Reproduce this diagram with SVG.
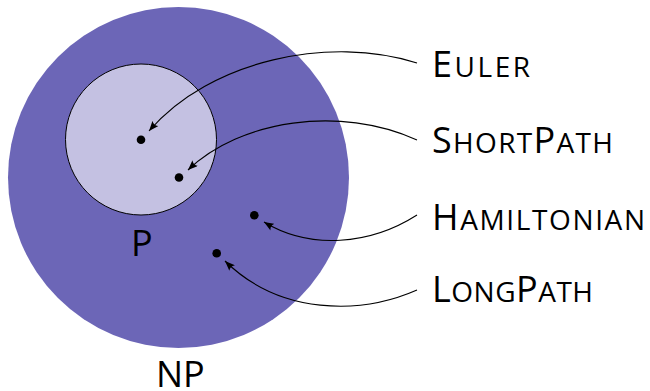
<svg xmlns="http://www.w3.org/2000/svg" width="650" height="391" viewBox="0 0 650 391">
  <style>
    .lbl { font-family: "Open Sans", "Liberation Sans", sans-serif; font-size: 36px; fill: #000; }
    .sm { font-size: 40px; font-variant: small-caps; }
    .dot { fill: #000; }
    .conn { fill: none; stroke: #000; stroke-width: 1.1; marker-end: url(#arr); }
  </style>
  <defs>
    <marker id="arr" markerUnits="userSpaceOnUse" markerWidth="11" markerHeight="8" refX="10" refY="4" orient="auto">
      <path d="M0,0 Q3,4 0,8 L10,4 Z" fill="#000"/>
    </marker>
  </defs>
  <g id="NP">
    <circle cx="178.5" cy="177.5" r="170.5" fill="#6C66B7"/>
    <text class="lbl" x="156" y="387">NP</text>
  </g>
  <g id="P">
    <circle cx="141" cy="139.5" r="75.5" fill="#C4C1E2" stroke="#000" stroke-width="1"/>
    <text class="lbl" x="131" y="256">P</text>
  </g>
  <g id="dots">
    <circle class="dot" cx="141" cy="139.7" r="4.3"/>
    <circle class="dot" cx="179" cy="177.5" r="4.3"/>
    <circle class="dot" cx="254.3" cy="215.3" r="4.3"/>
    <circle class="dot" cx="216.7" cy="253.3" r="4.3"/>
  </g>
  <g id="connectors">
    <path class="conn" d="M417,63 C330,35 210,60 149,131"/>
    <path class="conn" d="M417,140 C340,105 240,120 188,170"/>
    <path class="conn" d="M417,215 C370,245 310,250 264,222"/>
    <path class="conn" d="M417,290 C360,315 280,315 225,261"/>
  </g>
  <g id="euler"><text class="lbl" x="432" y="77" textLength="98" lengthAdjust="spacing">E<tspan class="sm">uler</tspan></text></g>
  <g id="shortpath"><text class="lbl" x="432" y="153" textLength="181" lengthAdjust="spacing">S<tspan class="sm">hort</tspan>P<tspan class="sm">ath</tspan></text></g>
  <g id="hamiltonian"><text class="lbl" x="432" y="230" textLength="213" lengthAdjust="spacing">H<tspan class="sm">amiltonian</tspan></text></g>
  <g id="longpath"><text class="lbl" x="432" y="302" textLength="161" lengthAdjust="spacing">L<tspan class="sm">ong</tspan>P<tspan class="sm">ath</tspan></text></g>
</svg>
